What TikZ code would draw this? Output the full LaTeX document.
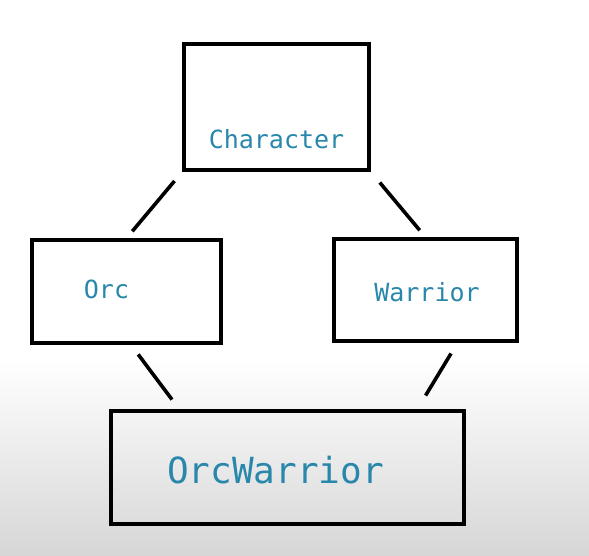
\documentclass[tikz,border=0pt]{standalone}
\usepackage{fontspec}
\newfontfamily\codefont{DejaVu Sans Mono}
\usepackage{tikz}
\usetikzlibrary{positioning}
\definecolor{classname}{RGB}{40,135,170}
\tikzset{
	classbox/.style={draw, line width=3.6pt, inner sep=0pt},
	classtext/.style={font=\codefont\fontsize{25}{30}\selectfont, text=classname, inner sep=0pt},
	bigtext/.style={font=\codefont\fontsize{36}{42}\selectfont, text=classname, inner sep=0pt},
	link/.style={line width=3.6pt}
}

\begin{document}
\begin{tikzpicture}[x=1pt, y=-1pt]
						% background, white fading to grey at the bottom
						\useasboundingbox (0, 0) rectangle (589, 556);
						\fill[white] (0, 0) rectangle (589, 556);
						\shade[top color=white, bottom color=black!16] (0, 360) rectangle (589, 556);
						% classes
						\node[classbox, minimum width=185pt, minimum height=126pt, label={[classtext, yshift=-32pt]center:Character}] (character) at (276.5, 107) {};
						\node[classbox, minimum width=189pt, minimum height=103pt, label={[classtext, xshift=-20pt, yshift=2pt]center:Orc}] (orc) at (126.5, 291.5) {};
						\node[classbox, minimum width=183pt, minimum height=102pt, label={[classtext, xshift=1.5pt, yshift=-2pt]center:Warrior}] (warrior) at (425.5, 290) {};
						\node[classbox, minimum width=353pt, minimum height=113pt, label={[bigtext, xshift=-12pt, yshift=-3pt]center:OrcWarrior}] (orcwarrior) at (287.5, 467.5) {};
						% inheritance links
						\draw[link, shorten <=12pt, shorten >=9pt] (character.south west) -- (orc.north);
						\draw[link, shorten <=14pt, shorten >=9pt] (character.south east) -- (warrior.north);
						\draw[link, shorten <=12pt, shorten >=12pt] ([xshift=4.5pt]orc.south) -- ([xshift=70pt]orcwarrior.north west);
						\draw[link, shorten <=12.5pt, shorten >=16pt] ([xshift=32pt]warrior.south) -- ([xshift=-48.5pt]orcwarrior.north east);
					\end{tikzpicture}
\end{document}
